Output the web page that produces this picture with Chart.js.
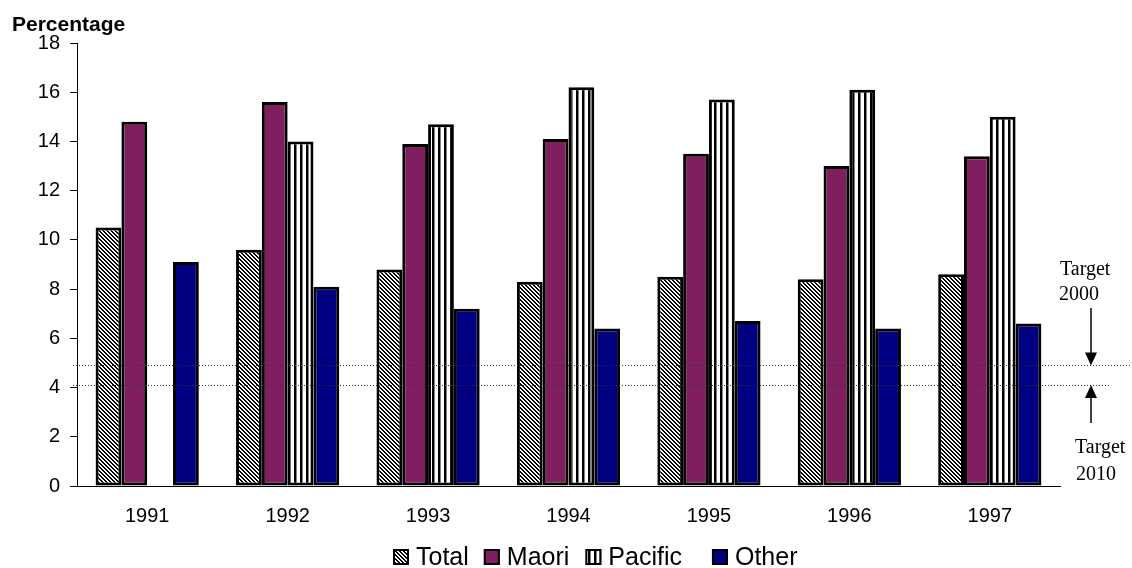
<!DOCTYPE html>
<html lang="en">
<head>
    <meta charset="UTF-8">
    <title>Percentage by year</title>
    <script src="https://cdn.jsdelivr.net/npm/chart.js"></script>
    <style>
        body {
            margin: 0;
            background-color: #ffffff;
        }
        canvas {
            display: block;
        }
    </style>
</head>
<body>
    <canvas id="myChart" width="1132" height="568"></canvas>

    <script>
        // Datos por año
        const years = ['1991', '1992', '1993', '1994', '1995', '1996', '1997'];
        const total = [10.5, 9.6, 8.8, 8.3, 8.5, 8.4, 8.6];
        const maori = [14.8, 15.6, 13.9, 14.1, 13.5, 13.0, 13.4];
        const pacific = [null, 14.0, 14.7, 16.2, 15.7, 16.1, 15.0];
        const other = [9.1, 8.1, 7.2, 6.4, 6.7, 6.4, 6.6];

        // Metas
        const target2000 = 4.9;
        const target2010 = 4.1;

        const yTicks = [0, 2, 4, 6, 8, 10, 12, 14, 16, 18];

        // Patrones de relleno (pixel a pixel para que queden nítidos)
        function diagonalPattern() {
            const c = document.createElement('canvas');
            c.width = 4;
            c.height = 4;
            const g = c.getContext('2d');
            g.fillStyle = '#ffffff';
            g.fillRect(0, 0, 4, 4);
            g.fillStyle = '#000000';
            for (let py = 0; py < 4; py++) {
                for (let px = 0; px < 4; px++) {
                    if (((px - py) % 4 + 4) % 4 < 2) g.fillRect(px, py, 1, 1);
                }
            }
            return g.createPattern(c, 'repeat');
        }

        function verticalPattern() {
            const c = document.createElement('canvas');
            c.width = 6;
            c.height = 6;
            const g = c.getContext('2d');
            g.fillStyle = '#ffffff';
            g.fillRect(0, 0, 6, 6);
            g.fillStyle = '#000000';
            g.fillRect(0, 0, 2, 6);
            g.fillStyle = '#808080';
            g.fillRect(2, 0, 1, 6);
            return g.createPattern(c, 'repeat');
        }

        // Líneas de meta, flechas y textos
        const targetsPlugin = {
            id: 'targets',
            afterDatasetsDraw(chart) {
                const ctx = chart.ctx;
                const y = chart.scales.y;
                const y00 = y.getPixelForValue(target2000);
                const y10 = y.getPixelForValue(target2010);
                const ax = 1091;

                ctx.save();
                ctx.strokeStyle = '#333333';
                ctx.lineWidth = 1;
                ctx.setLineDash([1, 2]);
                ctx.beginPath();
                ctx.moveTo(73, Math.round(y00) + 0.5); ctx.lineTo(1132, Math.round(y00) + 0.5);
                ctx.moveTo(73, Math.round(y10) + 0.5); ctx.lineTo(1110, Math.round(y10) + 0.5);
                ctx.stroke();
                ctx.setLineDash([]);

                // flecha hacia abajo (2000)
                ctx.strokeStyle = '#000000';
                ctx.fillStyle = '#000000';
                ctx.lineWidth = 1.5;
                ctx.beginPath();
                ctx.moveTo(ax, 308); ctx.lineTo(ax, y00 - 12);
                ctx.stroke();
                ctx.beginPath();
                ctx.moveTo(ax - 6, y00 - 13); ctx.lineTo(ax + 6, y00 - 13); ctx.lineTo(ax, y00);
                ctx.closePath();
                ctx.fill();

                // flecha hacia arriba (2010)
                ctx.beginPath();
                ctx.moveTo(ax, 423); ctx.lineTo(ax, y10 + 12);
                ctx.stroke();
                ctx.beginPath();
                ctx.moveTo(ax - 6, y10 + 13); ctx.lineTo(ax + 6, y10 + 13); ctx.lineTo(ax, y10);
                ctx.closePath();
                ctx.fill();

                ctx.font = '20px "Liberation Serif"';
                ctx.textBaseline = 'alphabetic';
                ctx.textAlign = 'left';
                ctx.fillText('Target', 1060, 275);
                ctx.fillText('2000', 1059, 300);
                ctx.fillText('Target', 1075, 453);
                ctx.fillText('2010', 1076, 480);

                // título del eje
                ctx.font = 'bold 21px "Liberation Sans"';
                ctx.fillText('Percentage', 12, 31);
                ctx.restore();
            }
        };

        // Leyenda dibujada a mano
        const legendPlugin = {
            id: 'legendRow',
            afterDraw(chart, args, opts) {
                const ctx = chart.ctx;
                let x = opts.startX;
                const cy = opts.centerY;
                ctx.save();
                ctx.font = '25px "Liberation Sans"';
                ctx.textBaseline = 'middle';
                ctx.textAlign = 'left';
                chart.data.datasets.forEach((ds, i) => {
                    ctx.fillStyle = ds.backgroundColor;
                    ctx.fillRect(x, cy - 8, 16, 16);
                    ctx.strokeStyle = '#000000';
                    ctx.lineWidth = 2;
                    ctx.strokeRect(x + 1, cy - 7, 14, 14);
                    ctx.fillStyle = '#000000';
                    ctx.fillText(ds.label, x + 23, cy + 1);
                    x += 23 + ctx.measureText(ds.label).width + (opts.gaps[i] || 0);
                });
                ctx.restore();
            }
        };

        const ctx = document.getElementById('myChart').getContext('2d');
        new Chart(ctx, {
            type: 'bar',
            data: {
                labels: years,
                datasets: [
                    { label: 'Total', data: total, backgroundColor: diagonalPattern() },
                    { label: 'Maori', data: maori, backgroundColor: '#7f1f5f' },
                    { label: 'Pacific', data: pacific, backgroundColor: verticalPattern() },
                    { label: 'Other', data: other, backgroundColor: '#000080' }
                ]
            },
            options: {
                responsive: false,
                animation: false,
                datasets: {
                    bar: {
                        borderColor: '#000000',
                        borderWidth: 3,
                        borderSkipped: false,
                        inflateAmount: 0,
                        categoryPercentage: 0.735,
                        barPercentage: 1.0
                    }
                },
                layout: {
                    padding: { left: 0, top: 43, right: 72, bottom: 0 }
                },
                scales: {
                    x: {
                        grid: { display: false, drawTicks: false },
                        border: { display: true, color: '#000000', width: 1 },
                        ticks: {
                            color: '#000000',
                            padding: 18,
                            font: { family: '"Liberation Sans"', size: 20 }
                        },
                        afterFit(scale) { scale.height = 82; }
                    },
                    y: {
                        min: 0,
                        max: 18,
                        afterBuildTicks(scale) {
                            scale.ticks = yTicks.map(v => ({ value: v }));
                        },
                        grid: {
                            display: true,
                            drawOnChartArea: false,
                            drawTicks: true,
                            tickLength: 7,
                            color: '#000000'
                        },
                        border: { display: true, color: '#000000', width: 1 },
                        ticks: {
                            color: '#000000',
                            padding: 10,
                            font: { family: '"Liberation Sans"', size: 20 }
                        },
                        afterFit(scale) { scale.width = 77; }
                    }
                },
                plugins: {
                    legend: { display: false },
                    tooltip: { enabled: false },
                    legendRow: { startX: 393, centerY: 557, gaps: [15, 16, 30, 0] }
                }
            },
            plugins: [targetsPlugin, legendPlugin]
        });
    </script>
</body>
</html>
